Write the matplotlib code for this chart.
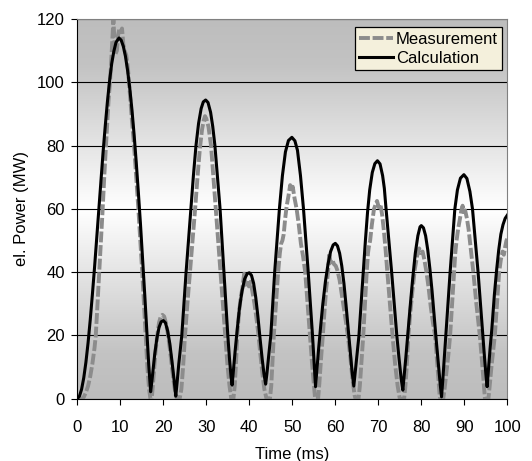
import numpy as np
import matplotlib
matplotlib.use("Agg")
import matplotlib.pyplot as plt
from matplotlib.colors import LinearSegmentedColormap

# calculated electrical power (ms, MW)
calc_time = [
    0, 0.5, 1.0, 1.5, 2.0, 2.5, 3.0, 3.5, 4.0, 4.5, 5.0, 5.5, 6.0, 6.5, 7.0, 7.5, 8.0, 8.5, 9.0, 9.7,
    10.2, 10.7, 11.2, 11.7, 12.2, 12.7, 13.2, 13.7, 14.2, 14.7, 15.2, 15.7, 16.2, 16.6, 16.85, 17.05,
    17.3, 17.6, 18.0, 18.5, 19.0, 19.5, 20.0, 20.5, 21.0, 21.5, 22.0, 22.5, 22.9,
    23.2, 23.6, 24.0, 24.3, 24.8, 25.3, 25.85, 26.4, 27.0, 27.6, 28.2, 28.8, 29.3, 29.85, 30.4, 31.0,
    31.5, 32.0, 32.6, 33.2, 33.65, 34.1, 34.55, 35.0, 35.4, 35.75, 36.0,
    36.3, 36.7, 37.2, 37.7, 38.3, 38.9, 39.5, 40.0, 40.5, 41.0, 41.5, 42.0, 42.5, 43.0, 43.4, 43.8,
    44.1, 44.5, 45.0, 45.45, 45.9, 46.45, 47.0, 47.7, 48.4, 49.1, 49.9, 50.6, 51.2, 51.9, 52.6, 53.15,
    53.7, 54.2, 54.7, 55.0, 55.2, 55.4,
    55.7, 56.1, 56.6, 57.1, 57.7, 58.3, 58.9, 59.5, 60.0, 60.5, 61.0, 61.5, 62.0, 62.5, 63.0, 63.5,
    63.9, 64.3,
    64.6, 65.0, 65.5, 66.0, 66.5, 67.0, 67.5, 68.0, 68.6, 69.2, 69.8, 70.4, 71.0, 71.4, 71.8, 72.45,
    73.1, 73.7, 74.3, 74.8, 75.3, 75.7,
    76.0, 76.4, 76.9, 77.4, 78.0, 78.6, 79.2, 79.7, 80.0, 80.5, 81.0, 81.5, 82.0, 82.5, 83.0, 83.5,
    84.0, 84.4, 84.7,
    85.0, 85.3, 85.7, 86.2, 86.7, 87.25, 87.8, 88.4, 89.1, 89.9, 90.6, 91.3, 91.9, 92.55, 93.2, 93.75,
    94.3, 94.7, 95.0, 95.3,
    95.6, 96.0, 96.4, 97.0, 97.5, 98.0, 98.5, 99.0, 99.5, 100,
]
calc_power = [
    0, 0.8, 3.0, 6.6, 11.5, 17.6, 24.8, 32.8, 41.3, 50.5, 59.7, 69, 78, 86.2, 93.8, 100.4, 105.9, 109.8, 112.6, 114,
    113.3, 111.4, 108.2, 103.7, 98.1, 91.4, 83.6, 74.8, 65.2, 55, 44, 32.5, 20.6, 11, 6, 2.2,
    5, 9, 14, 19, 22.5, 24.3, 24.7, 24, 21.5, 17.5, 12, 6, 0.8,
    5, 11, 16, 20, 30, 40, 50, 60, 70.5, 80, 87, 91.7, 93.8, 94.4, 93.6, 90.5,
    86, 80, 70, 60, 50, 40, 30, 20, 12.5, 7, 4.3,
    9, 15, 22, 28.5, 34, 37.8, 39.5, 39.8, 39, 36.5, 32, 26, 19, 12.5, 8, 4.6,
    8, 13.5, 20, 30, 40, 50, 60, 70.5, 78, 81.6, 82.6, 81.5, 78.5, 70.5, 60, 50,
    40, 30, 20, 13, 8, 3.8,
    9, 15.5, 23, 30, 37, 42.5, 46.5, 48.6, 49.1, 48.3, 46, 42, 36.5, 29.5, 22, 14.5,
    8.5, 4,
    8, 13.5, 20, 30, 40, 50, 59, 66, 71.5, 74.3, 75.2, 74.2, 70.5, 66.5, 60, 50,
    40, 30, 20, 13, 6.5, 2.7,
    7, 13, 21, 29, 38, 46, 51.5, 54.3, 54.7, 54, 51.5, 47, 41, 34, 26, 18,
    10.5, 4.5, 0.6,
    6, 12, 20, 30, 40, 50, 60, 66, 69.7, 70.8, 69.6, 65.5, 60, 50, 40, 30,
    20, 13, 8, 3.8,
    9, 16, 22, 33, 40.5, 47, 52, 55, 57, 58,
]

# measured electrical power (ms, MW)
meas_time = [
    0, 1.0, 1.5, 2.0, 2.5, 3.0, 3.5, 4.0, 4.3, 4.7, 5.1, 5.5, 5.9, 6.3, 6.7, 7.0, 7.3, 7.6, 7.9, 8.2,
    8.4, 8.6, 8.9, 9.2, 9.5, 9.8, 10.1, 10.4, 10.7, 11.0, 11.4, 11.8, 12.2, 12.7, 13.2, 13.7, 14.2,
    14.65, 15.1, 15.5, 15.9, 16.3, 16.7, 17.0, 17.3,
    17.5, 17.8, 18.2, 18.6, 19.0, 19.4, 19.8, 20.2, 20.6, 21.0, 21.5, 22.0, 22.5, 22.9, 23.2, 23.8,
    24.2, 24.6, 25.0, 25.6, 26.2, 26.8, 27.4, 27.95, 28.5, 29.0, 29.4, 29.7, 30.0, 30.5, 31.1, 31.65,
    32.2, 32.75, 33.3, 33.85, 34.4, 34.9, 35.4, 35.8, 36.3,
    36.6, 36.9, 37.2, 37.6, 38.0, 38.4, 38.8, 39.1, 39.5, 39.9, 40.3, 40.7, 41.2, 41.7, 42.1, 42.5,
    43.0, 43.5, 44.0, 44.8,
    45.1, 45.4, 45.7, 46.2, 46.7, 47.1, 47.4, 47.7, 48.0, 48.35, 48.7, 49.1, 49.5, 49.8, 50.1, 50.5,
    51.0, 51.5, 52.0, 52.5, 53.0, 53.5, 54.1, 54.6, 55.0, 55.3, 56.0,
    56.3, 56.7, 57.1, 57.5, 57.9, 58.3, 58.6, 58.9, 59.3, 59.7, 60.1, 60.5, 61.0, 61.5, 62.0, 62.5,
    63.0, 63.5, 64.0, 64.5, 64.7, 65.4,
    65.7, 66.1, 66.5, 66.9, 67.3, 67.6, 67.8, 68.1, 68.5, 69.0, 69.4, 69.7, 70.1, 70.5, 70.9, 71.3,
    71.7, 72.1, 72.7, 73.3, 73.9, 74.5, 75.0, 76.0,
    76.3, 76.6, 77.0, 77.5, 78.0, 78.5, 79.0, 79.5, 79.9, 80.3, 80.7, 81.2, 81.7, 82.2, 82.7, 83.2,
    83.6, 84.0, 84.3, 84.5, 85.1,
    85.4, 85.8, 86.3, 86.7, 87.2, 87.6, 87.9, 88.2, 88.6, 89.0, 89.3, 89.6, 89.9, 90.2, 90.6, 91.0,
    91.5, 92.1, 92.8, 93.6, 94.1, 94.5, 94.8, 95.6,
    95.9, 96.3, 96.7, 97.1, 97.6, 98.1, 98.5, 98.9, 99.2, 99.5, 99.8, 100,
]
meas_power = [
    0, 0, 0.5, 2, 4, 7, 11, 16, 20, 30, 40, 50, 60, 71, 81, 88, 95, 100, 107, 115,
    120, 114, 109, 110, 115, 117, 116, 117, 112, 110, 108.5, 104, 97, 88, 80, 70, 60,
    50, 40, 30, 20, 10, 3, 0, 0,
    3, 8, 15, 20, 24, 26, 26.5, 26, 24, 21, 16, 10, 4.5, 1, 0, 0,
    3, 10, 19, 30, 40, 50, 60, 70, 79, 85, 88, 89.3, 88.5, 86, 80, 70,
    60, 50, 40, 30, 20, 11, 4, 0, 0,
    4, 11, 20, 27, 32, 35, 39.5, 36, 37.5, 35.5, 37, 34, 30, 25, 20.5, 15,
    8.5, 3, 0, 0,
    4, 12, 20, 30, 40, 46, 49, 50, 52, 57, 61, 64, 67.5, 65.5, 67, 63.5,
    60, 55, 49, 45, 40, 31, 20, 11, 4.5, 0, 0,
    5, 13, 20, 28, 35, 40, 46, 43, 44, 42.5, 42, 40.5, 37.5, 33, 28.5, 24,
    19, 13, 6, 1, 0, 0,
    4, 12, 20, 30, 40, 46, 48, 50, 55, 60, 61.5, 62.5, 60.5, 61.5, 58, 53,
    47, 40, 30, 20, 11, 4, 0, 0,
    4, 10, 20, 28, 35, 41, 45, 47.5, 46, 46.5, 44, 40, 35, 29, 24, 20,
    13, 6, 0.5, 0, 0,
    3, 8, 14, 20, 31, 40, 46, 50, 54, 57, 59.5, 61, 59, 59.5, 57, 53.5,
    47.5, 40, 30, 20, 12, 5, 0, 0,
    4, 10, 15, 20, 30, 40, 44, 46.5, 45.5, 48, 50, 50.5,
]

x_ticks = list(range(0, 101, 10))
y_ticks = list(range(0, 121, 20))


def main() -> None:
    plt.rcParams["font.family"] = ["Liberation Sans", "DejaVu Sans"]
    plt.rcParams["font.size"] = 12

    fig = plt.figure(figsize = (5.32, 4.61), dpi = 100)
    ax = fig.add_axes([0.1453, 0.1351, 0.8083, 0.8237])

    # grey - white - grey vertical gradient behind the plot
    cmap = LinearSegmentedColormap.from_list(
        "bg", [(0.0, "#bdbdbd"), (0.12, "#c3c3c3"), (0.5, "#ffffff"), (0.88, "#c3c3c3"), (1.0, "#bdbdbd")]
    )
    grad = np.linspace(0, 1, 256).reshape(-1, 1)
    ax.imshow(grad, cmap = cmap, extent = [0, 100, 0, 120], aspect = "auto", origin = "lower", zorder = 0)

    ax.plot(meas_time, meas_power, color = "#8c8c8c", lw = 2.8, dashes = (2.8, 0.7),
            label = "Measurement", zorder = 2)
    ax.plot(calc_time, calc_power, color = "black", lw = 2.2, label = "Calculation", zorder = 3)

    ax.set_xlim(0, 100)
    ax.set_ylim(0, 120)
    ax.set_xticks(x_ticks)
    ax.set_yticks(y_ticks)
    ax.yaxis.grid(True, color = "black", lw = 0.8)
    ax.set_axisbelow(True)
    ax.tick_params(axis = "both", direction = "out", length = 4, width = 0.8, labelsize = 12)
    ax.tick_params(axis = "y", pad = 5)
    ax.tick_params(axis = "x", pad = 11)

    for side in ["top", "right"]:
        ax.spines[side].set_color("#808080")
    for side in ["left", "bottom"]:
        ax.spines[side].set_color("black")

    ax.set_xlabel("Time (ms)", fontsize = 12, labelpad = 9)
    ax.set_ylabel("el. Power (MW)", fontsize = 12, labelpad = 6)

    leg = ax.legend(loc = "upper right", bbox_to_anchor = (0.988, 0.978), borderaxespad = 0,
                    fancybox = False, frameon = True, fontsize = 12, handlelength = 2.0,
                    handletextpad = 0.2, borderpad = 0.25, labelspacing = 0.25)
    leg.get_frame().set_facecolor("#f4f0dc")
    leg.get_frame().set_edgecolor("black")
    leg.get_frame().set_linewidth(0.9)
    leg.get_frame().set_alpha(1)

    fig.savefig("out.png", dpi = 100)
    plt.close(fig)


if __name__ == "__main__":
    main()
